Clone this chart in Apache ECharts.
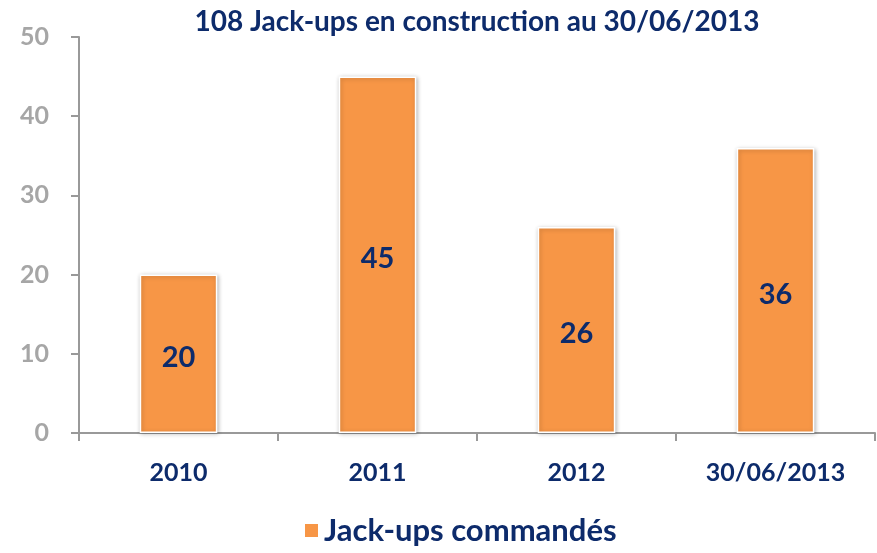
<!DOCTYPE html>
<html>
<head>
<meta charset="utf-8">
<script src="https://cdn.jsdelivr.net/npm/echarts@6/dist/echarts.min.js"></script>
<style>
  html, body { margin: 0; padding: 0; background: #fff; }
  #main { width: 877px; height: 553px; }
</style>
</head>
<body>
<div id="main"></div>
<script>
var categories = ['2010', '2011', '2012', '30/06/2013'];
var jackups = [20, 45, 26, 36];
var seriesName = 'Jack-ups commandés';
var titleText = '108 Jack-ups en construction au 30/06/2013';

var navy = '#0D2B6B';
var orange = '#F79646';
var fontFamily = 'Lato, "Open Sans", sans-serif';

var myChart = echarts.init(document.getElementById('main'));
var option = {
    backgroundColor: '#ffffff',
    animation: false,
    textStyle: { fontFamily: fontFamily },
    title: {
        text: titleText,
        left: 472,
        textAlign: 'center',
        top: 3,
        textStyle: {
            color: navy,
            fontSize: 28,
            fontWeight: 'bold',
            fontFamily: fontFamily
        }
    },
    legend: {
        data: [seriesName],
        bottom: 2,
        left: 298,
        itemWidth: 15,
        itemHeight: 15,
        itemGap: 10,
        icon: 'rect',
        textStyle: {
            color: navy,
            fontSize: 31,
            fontWeight: 'bold',
            fontFamily: fontFamily
        }
    },
    grid: {
        left: 79,
        right: 2,
        top: 37,
        bottom: 120,
        containLabel: false
    },
    xAxis: {
        type: 'category',
        data: categories,
        boundaryGap: true,
        axisLine: { lineStyle: { color: '#999999', width: 2 } },
        axisTick: { show: true, length: 8, alignWithLabel: false, lineStyle: { color: '#999999', width: 2 } },
        axisLabel: {
            color: navy,
            fontSize: 25,
            fontWeight: 'bold',
            margin: 27,
            fontFamily: fontFamily
        }
    },
    yAxis: {
        type: 'value',
        min: 0,
        max: 50,
        interval: 10,
        splitLine: { show: false },
        axisLine: { show: true, lineStyle: { color: '#999999', width: 2 } },
        axisTick: { show: true, length: 8, lineStyle: { color: '#999999', width: 2 } },
        axisLabel: {
            color: '#A6A6A6',
            fontSize: 25,
            fontWeight: 'bold',
            margin: 30,
            fontFamily: fontFamily
        }
    },
    series: [
        {
            name: seriesName,
            type: 'bar',
            data: jackups,
            barWidth: '39%',
            itemStyle: {
                color: orange,
                borderColor: '#ffffff',
                borderWidth: 1.5,
                shadowColor: 'rgba(0,0,0,0.25)',
                shadowBlur: 4,
                shadowOffsetX: 1,
                shadowOffsetY: 1
            },
            label: {
                show: true,
                position: 'inside',
                offset: [0, 4],
                color: navy,
                fontSize: 29,
                fontWeight: 'bold',
                fontFamily: fontFamily
            }
        }
    ]
};
myChart.setOption(option);
</script>
</body>
</html>
